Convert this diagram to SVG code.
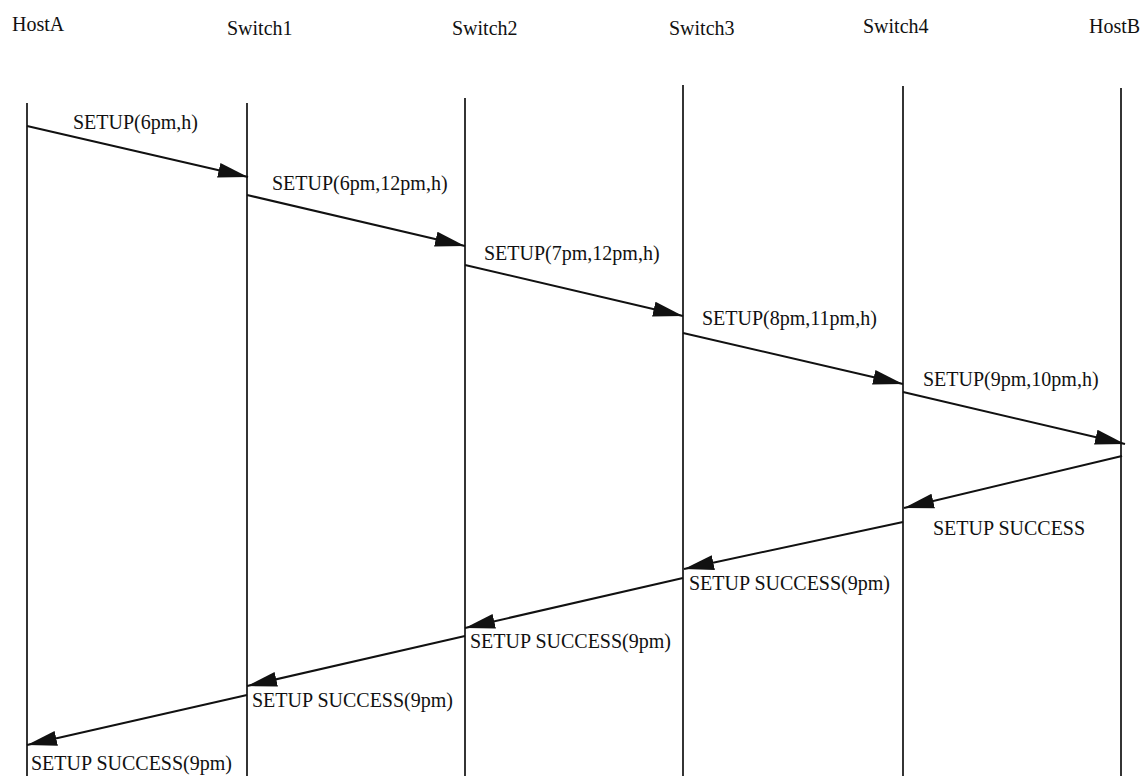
<svg xmlns="http://www.w3.org/2000/svg" width="1143" height="776" viewBox="0 0 1143 776">
  <style>
    text { font-family: "Liberation Serif", "Times New Roman", serif; font-size: 20px; fill: #111; }
    .life { stroke: #111; stroke-width: 1.7; fill: none; }
    .msg { stroke: #111; stroke-width: 2; fill: none; marker-end: url(#head); }
  </style>
  <defs>
    <!-- filled triangular arrowhead, tip placed on the receiving lifeline -->
    <marker id="head" markerUnits="userSpaceOnUse" markerWidth="32" markerHeight="18" viewBox="0 -9 32 18" refX="30" refY="0" orient="auto">
      <path d="M0,-7.5 L30,0 L0,7.5 z" fill="#111"/>
    </marker>
  </defs>
  <rect width="1143" height="776" fill="#fff"/>

  <g id="hostA">
    <text x="12" y="31">HostA</text>
    <line class="life" x1="27" y1="103" x2="27" y2="776"/>
  </g>
  <g id="switch1">
    <text x="227" y="35">Switch1</text>
    <line class="life" x1="247" y1="103" x2="247" y2="776"/>
  </g>
  <g id="switch2">
    <text x="452" y="35">Switch2</text>
    <line class="life" x1="465" y1="98" x2="465" y2="776"/>
  </g>
  <g id="switch3">
    <text x="669" y="35">Switch3</text>
    <line class="life" x1="683" y1="85" x2="683" y2="776"/>
  </g>
  <g id="switch4">
    <text x="863" y="33">Switch4</text>
    <line class="life" x1="903" y1="86" x2="903" y2="776"/>
  </g>
  <g id="hostB">
    <text x="1089" y="33">HostB</text>
    <line class="life" x1="1121" y1="88" x2="1121" y2="776"/>
  </g>

  <g id="connectors">
    <line class="msg" x1="27" y1="126" x2="248" y2="177"/>
    <line class="msg" x1="247" y1="195" x2="465" y2="246"/>
    <line class="msg" x1="465" y1="265" x2="683" y2="316"/>
    <line class="msg" x1="683" y1="333" x2="903" y2="384"/>
    <line class="msg" x1="903" y1="392" x2="1125" y2="444"/>
    <line class="msg" x1="1122" y1="456" x2="904" y2="508"/>
    <line class="msg" x1="903" y1="522" x2="684" y2="569"/>
    <line class="msg" x1="683" y1="578" x2="465" y2="628"/>
    <line class="msg" x1="465" y1="636" x2="247" y2="686"/>
    <line class="msg" x1="247" y1="695" x2="27" y2="745"/>

    <text x="73" y="129">SETUP(6pm,h)</text>
    <text x="272" y="190">SETUP(6pm,12pm,h)</text>
    <text x="484" y="260">SETUP(7pm,12pm,h)</text>
    <text x="702" y="325">SETUP(8pm,11pm,h)</text>
    <text x="923" y="386">SETUP(9pm,10pm,h)</text>
    <text x="933" y="535">SETUP SUCCESS</text>
    <text x="689" y="590">SETUP SUCCESS(9pm)</text>
    <text x="470" y="648">SETUP SUCCESS(9pm)</text>
    <text x="252" y="707">SETUP SUCCESS(9pm)</text>
    <text x="31" y="770">SETUP SUCCESS(9pm)</text>
  </g>
</svg>
